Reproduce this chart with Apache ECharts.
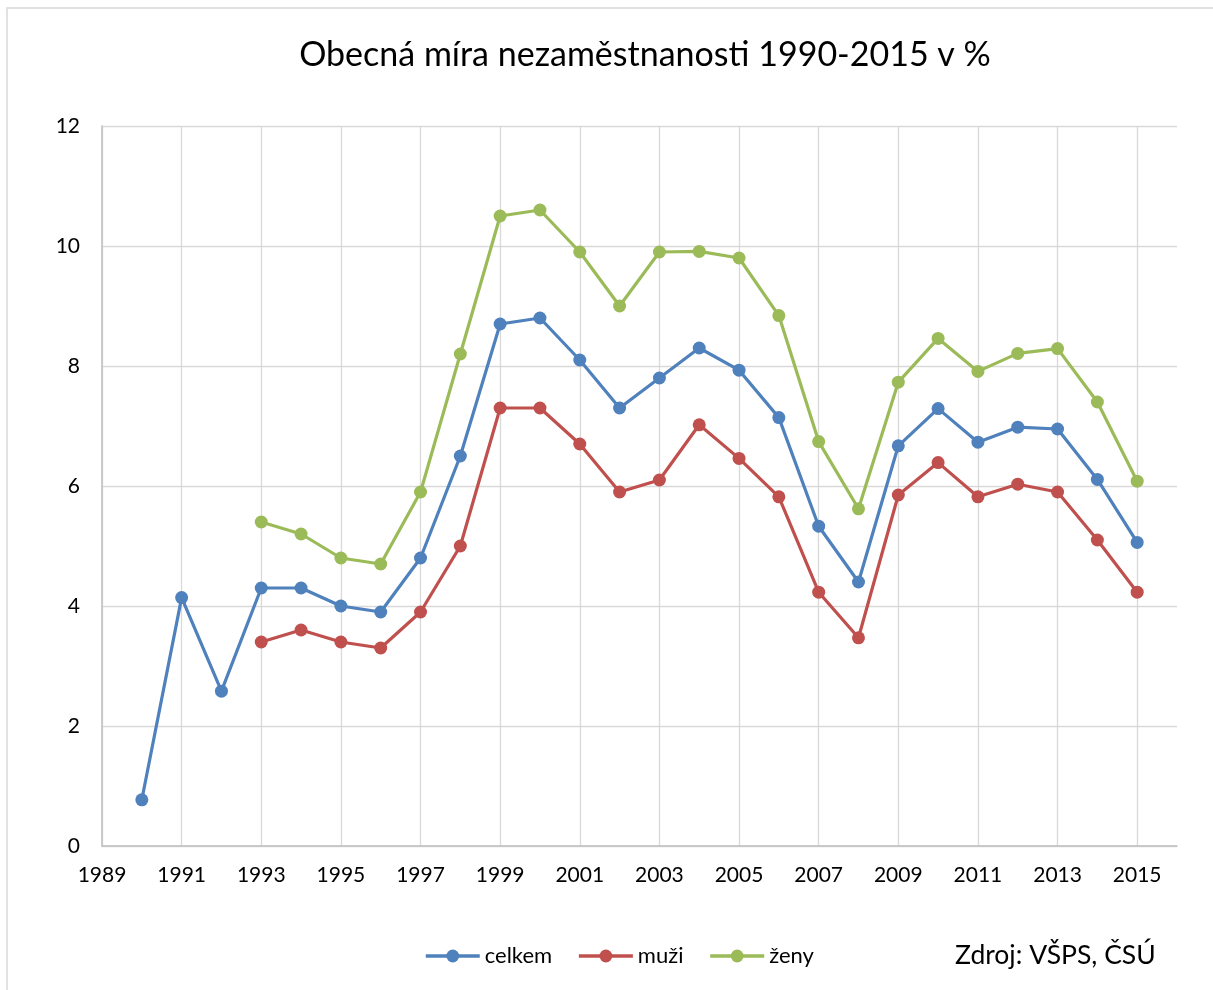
<!DOCTYPE html>
<html>
<head>
<meta charset="utf-8">
<title>Obecná míra nezaměstnanosti</title>
<script src="https://cdn.jsdelivr.net/npm/echarts@6/dist/echarts.min.js"></script>
<style>
  html, body { margin: 0; padding: 0; background: #ffffff; }
  #chart { width: 1213px; height: 990px; }
</style>
</head>
<body>
<div id="chart"></div>
<script>
// Unemployment rate (VŠPS), in percent
const years = [1990, 1991, 1992, 1993, 1994, 1995, 1996, 1997, 1998, 1999, 2000, 2001, 2002,
               2003, 2004, 2005, 2006, 2007, 2008, 2009, 2010, 2011, 2012, 2013, 2014, 2015];
const celkem = [0.77, 4.14, 2.58, 4.3, 4.3, 4.0, 3.9, 4.8, 6.5, 8.7, 8.8, 8.1, 7.3,
                7.8, 8.3, 7.93, 7.14, 5.33, 4.4, 6.67, 7.29, 6.73, 6.98, 6.95, 6.11, 5.06];
const muzi   = [null, null, null, 3.4, 3.6, 3.4, 3.3, 3.9, 5.0, 7.3, 7.3, 6.7, 5.9,
                6.1, 7.02, 6.46, 5.82, 4.23, 3.47, 5.85, 6.39, 5.82, 6.03, 5.9, 5.1, 4.23];
const zeny   = [null, null, null, 5.4, 5.2, 4.8, 4.7, 5.9, 8.2, 10.5, 10.6, 9.9, 9.0,
                9.9, 9.91, 9.8, 8.84, 6.74, 5.62, 7.73, 8.46, 7.91, 8.21, 8.29, 7.4, 6.08];

const seriesNames = ['celkem', 'muži', 'ženy'];
const seriesColors = ['#4f81bd', '#c0504d', '#9bbb59'];
const seriesValues = [celkem, muzi, zeny];

const FONT = 'Lato, "Open Sans", sans-serif';

const chart = echarts.init(document.getElementById('chart'), null, { renderer: 'canvas' });

const series = seriesValues.map((vals, i) => ({
  name: seriesNames[i],
  type: 'line',
  data: years.map((y, k) => [y, vals[k]]),
  connectNulls: false,
  symbol: 'circle',
  symbolSize: 13,
  showAllSymbol: true,
  color: seriesColors[i],
  lineStyle: { width: 3.2, color: seriesColors[i] },
  itemStyle: { color: seriesColors[i] },
  emphasis: { disabled: true },
  animation: false
}));

chart.setOption({
  backgroundColor: '#ffffff',
  animation: false,
  title: {
    text: 'Obecná míra nezaměstnanosti 1990-2015 v %',
    left: 640,
    textAlign: 'center',
    top: 33,
    textStyle: { fontFamily: FONT, fontSize: 34, fontWeight: 'normal', color: '#000000' }
  },
  grid: { left: 102, right: 36, top: 126, bottom: 144, containLabel: false },
  xAxis: {
    type: 'value',
    min: 1989,
    max: 2016,
    interval: 2,
    axisLine: { show: true, lineStyle: { color: '#bfbfbf', width: 1.5 } },
    axisTick: { show: false },
    axisLabel: {
      showMaxLabel: false,
      margin: 19,
      fontFamily: FONT, fontSize: 21, color: '#000000',
      formatter: v => String(v)
    },
    splitLine: { show: true, showMaxLine: false, lineStyle: { color: '#d9d9d9', width: 1.3 } }
  },
  yAxis: {
    type: 'value',
    min: 0,
    max: 12,
    interval: 2,
    axisLine: { show: true, lineStyle: { color: '#bfbfbf', width: 1.5 } },
    axisTick: { show: false },
    axisLabel: { margin: 22, fontFamily: FONT, fontSize: 21, color: '#000000' },
    splitLine: { show: true, lineStyle: { color: '#d9d9d9', width: 1.3 } }
  },
  legend: {
    data: seriesNames,
    left: 419,
    top: 940,
    itemWidth: 54,
    itemHeight: 16,
    itemGap: 25,
    lineStyle: { width: 3.5 },
    textStyle: { fontFamily: FONT, fontSize: 22, color: '#000000' }
  },
  graphic: [
    {
      type: 'rect',
      silent: true,
      shape: { x: 7, y: 8, width: 1400, height: 1200 },
      style: { fill: 'none', stroke: '#d9d9d9', lineWidth: 1.5 }
    },
    {
      type: 'text',
      silent: true,
      left: 955,
      top: 942,
      style: {
        text: 'Zdroj: VŠPS, ČSÚ',
        fontFamily: FONT, fontSize: 26.5, fill: '#000000'
      }
    }
  ],
  series: series
});
</script>
</body>
</html>
